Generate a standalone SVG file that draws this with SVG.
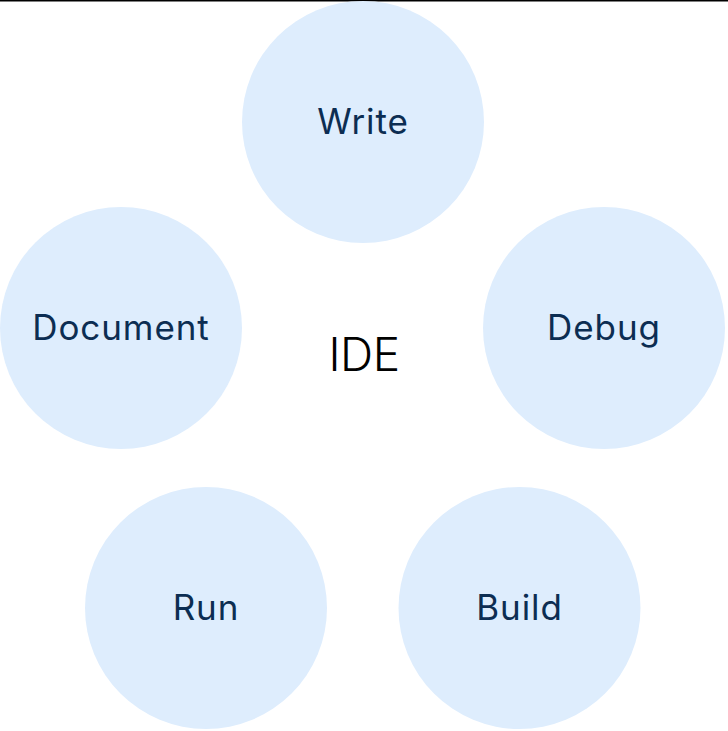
<svg xmlns="http://www.w3.org/2000/svg" width="728" height="731" viewBox="0 0 728 731">
<style>
.node circle { fill: #deedfd; }
.node text { font-family: Inter, "Noto Sans", "DejaVu Sans", sans-serif; font-size: 35px; fill: #0c2d52; text-anchor: middle; letter-spacing: 0.9px; }
.center { font-family: Inter, "Noto Sans", "DejaVu Sans", sans-serif; font-size: 46px; font-weight: 300; fill: #000; text-anchor: middle; letter-spacing: -0.5px; }
</style>
<rect width="728" height="731" fill="#fff"/>
<rect x="0" y="0" width="728" height="1.5" fill="#000"/>
<g id="connectors"></g>
<g id="node-write" class="node"><circle cx="363" cy="122" r="121"/><text x="363" y="134">Write</text></g>
<g id="node-debug" class="node"><circle cx="604" cy="328" r="121"/><text x="604" y="340">Debug</text></g>
<g id="node-build" class="node"><circle cx="519.5" cy="608" r="121"/><text x="519.5" y="620">Build</text></g>
<g id="node-run" class="node"><circle cx="206" cy="608" r="121"/><text x="206" y="620">Run</text></g>
<g id="node-document" class="node"><circle cx="121" cy="328" r="121"/><text x="121" y="340">Document</text></g>
<g id="node-ide"><text class="center" x="364" y="371">IDE</text></g>
</svg>
